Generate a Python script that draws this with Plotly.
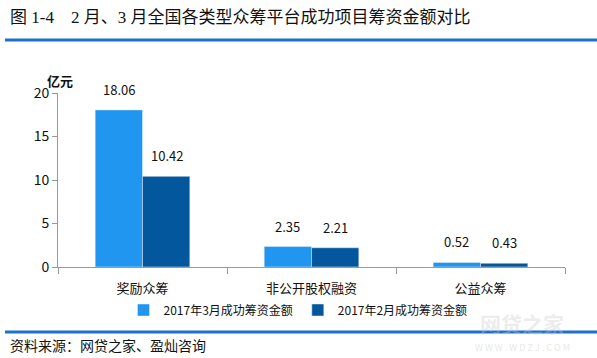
import plotly.graph_objects as go

categories = ["奖励众筹", "非公开股权融资", "公益众筹"]
mar_values = [18.06, 2.35, 0.52]
feb_values = [10.42, 2.21, 0.43]
series_names = ["2017年3月成功筹资金额", "2017年2月成功筹资金额"]
y_ticks = [0, 5, 10, 15, 20]

W, H = 597, 358
L, R, T, B = 58, 32, 93, 91
pw, ph = W - L - R, H - T - B

def px(x):
    return (x - L) / pw

def py(y):
    return (H - B - y) / ph

FONT = "Noto Sans CJK SC, Microsoft YaHei, sans-serif"
c1, c2 = "#2196F0", "#03579C"

fig = go.Figure()
fig.add_trace(go.Bar(x=categories, y=mar_values, name=series_names[0], marker_color=c1))
fig.add_trace(go.Bar(x=categories, y=feb_values, name=series_names[1], marker_color=c2))

annotations = []
for vals, sh in ((mar_values, -24), (feb_values, 24)):
    for c, v in zip(categories, vals):
        annotations.append(dict(x=c, y=v, text=f"{v:.2f}", showarrow=False, xref="x", yref="y",
                                yanchor="bottom", yshift=9, xshift=sh,
                                font=dict(size=13, color="#111", family=FONT)))

annotations += [
    dict(x=px(8), y=py(18), xref="paper", yref="paper", text="图 1-4    2 月、3 月全国各类型众筹平台成功项目筹资金额对比",
         showarrow=False, xanchor="left", yanchor="middle",
         font=dict(size=17, color="#111", family="Liberation Serif, Noto Sans CJK SC, serif")),
    dict(x=px(8), y=py(345), xref="paper", yref="paper", text="资料来源：网贷之家、盈灿咨询",
         showarrow=False, xanchor="left", yanchor="middle",
         font=dict(size=14, color="#111", family=FONT)),
    dict(x=px(60), y=py(80), xref="paper", yref="paper", text="<b>亿元</b>",
         showarrow=False, xanchor="center", yanchor="middle",
         font=dict(size=13, color="#111", family=FONT)),
    dict(x=px(522), y=py(323), xref="paper", yref="paper", text="<b>网贷之家</b>",
         showarrow=False, xanchor="center", yanchor="middle",
         font=dict(size=21, color="rgba(200,200,200,0.35)", family=FONT)),
    dict(x=px(522), y=py(347), xref="paper", yref="paper", text="W W W . W D Z J . C O M",
         showarrow=False, xanchor="center", yanchor="middle",
         font=dict(size=9, color="rgba(200,200,200,0.45)", family=FONT)),
]

shapes = [
    dict(type="line", xref="paper", yref="paper", x0=px(5), x1=px(597), y0=py(40), y1=py(40),
         line=dict(color="#1A6FD0", width=3), layer="above"),
    dict(type="line", xref="paper", yref="paper", x0=px(5), x1=px(597), y0=py(332), y1=py(332),
         line=dict(color="#1A6FD0", width=3), layer="above"),
]

fig.update_layout(
    width=W, height=H,
    margin=dict(l=L, r=R, t=T, b=B, autoexpand=False),
    paper_bgcolor="white", plot_bgcolor="white",
    barmode="group", bargap=0.44, bargroupgap=0,
    font=dict(family=FONT, size=13, color="#111"),
    showlegend=True,
    legend=dict(orientation="h", x=px(298), xanchor="center", y=py(310), yanchor="middle",
                font=dict(size=12, family=FONT, color="#111"), itemwidth=30,
                traceorder="normal", bgcolor="rgba(0,0,0,0)"),
    annotations=annotations,
    shapes=shapes,
    xaxis=dict(showline=True, linecolor="#999", linewidth=1, ticks="outside", tickson="boundaries",
               ticklen=6, tickcolor="#999", showgrid=False, ticklabelstandoff=9,
               tickfont=dict(size=13, family=FONT, color="#111")),
    yaxis=dict(range=[0, 20], tickvals=y_ticks, showline=True, linecolor="#999", linewidth=1,
               ticks="outside", ticklen=5, tickcolor="#999", showgrid=False, zeroline=False,
               tickfont=dict(size=14, family=FONT, color="#111")),
)

fig.write_html("out.html", config={"displayModeBar": False},
               post_script="document.body.style.margin='0';document.body.style.overflow='hidden';")
